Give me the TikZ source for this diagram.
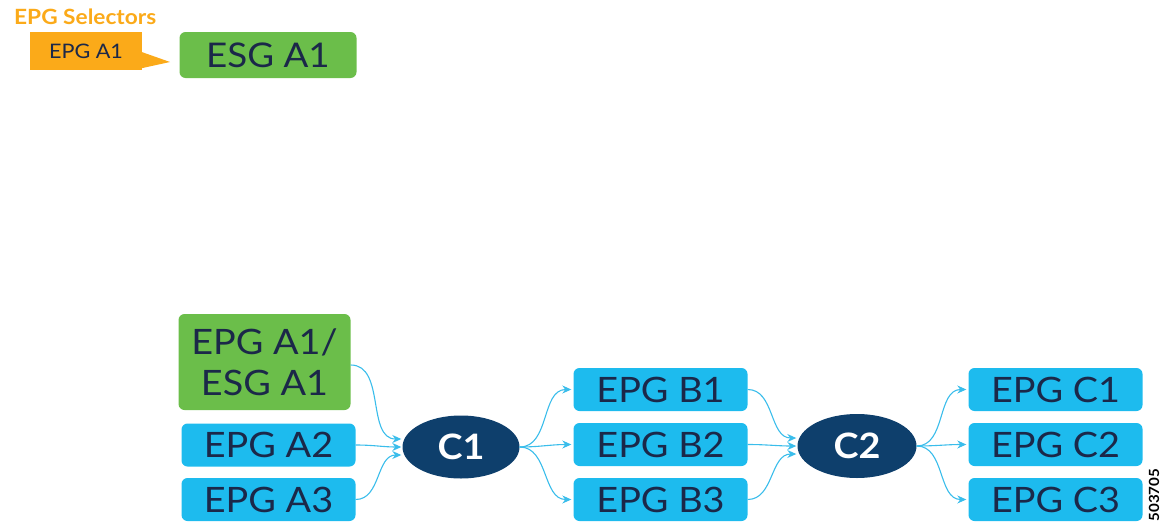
\documentclass[tikz,border=0pt]{standalone}
\usepackage{fontspec}
\setmainfont{Lato}[FakeStretch=1.08]
\usetikzlibrary{shapes.geometric,arrows.meta,calc}
\definecolor{cgreen}{HTML}{6BBE4A}
\definecolor{cblue}{HTML}{1DBBEE}
\definecolor{cnavy}{HTML}{0E3F6C}
\definecolor{corange}{HTML}{FBAA19}
\definecolor{ctext}{HTML}{1B2849}
\definecolor{carrow}{HTML}{3ABDEB}
\newcommand\epgfont{\fontsize{35}{41}\selectfont}
\begin{document}
\begin{tikzpicture}[x=1pt,y=-1pt,
  box/.style={rounded corners=6pt, inner sep=0pt, text=ctext, font=\epgfont,
    minimum width=174pt, minimum height=43pt, text height=25pt, text depth=0pt},
  bluebox/.style={box, fill=cblue},
  greenbox/.style={box, fill=cgreen},
  contract/.style={ellipse, fill=cnavy, text=white, inner sep=0pt,
    font=\fontsize{35}{35}\selectfont\bfseries, minimum width=117pt, minimum height=63pt,
    text height=25pt, text depth=0pt},
  conn/.style={draw=carrow, line width=1.1pt, -{Stealth[length=9pt,width=8pt]}}
]
\useasboundingbox (0,0) rectangle (1165,522);

% top part
\node[anchor=west, text=corange, font=\fontsize{21}{21}\selectfont\bfseries, inner sep=0pt] (title) at (14,17) {EPG Selectors};
\node[fill=corange, minimum width=112pt, minimum height=38pt, inner sep=0pt,
      text=ctext, font=\fontsize{20}{20}\selectfont, text height=15pt, text depth=0pt] (sel) at (86,51) {EPG A1};
\coordinate (tip) at (170,62);
\fill[corange] ($(sel.east)+(-0.5,1)$) -- (tip) -- ($(sel.south east)+(-0.5,-2)$) -- cycle;
\node[greenbox, minimum width=177pt, minimum height=46pt, font=\fontsize{34}{34}\selectfont, text height=24pt] (esg) at (268,55) {ESG A1};

% bottom part
\node[greenbox, minimum width=172pt, minimum height=96pt, align=center, text height=, text depth=] (a1) at (264.5,362) {EPG A1/\\ESG A1};
\node[bluebox] (a2) at (268.5,445) {EPG A2};
\node[bluebox] (a3) at (268.5,499.5) {EPG A3};

\node[contract] (c1) at (461,447) {C1};

\node[bluebox] (b1) at (660.5,389.5) {EPG B1};
\node[bluebox] (b2) at (660.5,444.5) {EPG B2};
\node[bluebox] (b3) at (660.5,499.5) {EPG B3};

\node[contract, minimum width=119pt, minimum height=64pt] (c2) at (857,446) {C2};

\node[bluebox] (d1) at (1055.5,389.5) {EPG C1};
\node[bluebox] (d2) at (1055.5,444.5) {EPG C2};
\node[bluebox] (d3) at (1055.5,499.5) {EPG C3};

\node[rotate=90, font=\fontsize{14}{14}\selectfont\bfseries, text=black, inner sep=0pt] (num) at (1154,495) {503705};

% connectors
\coordinate (c1i1) at ($(c1.west)+(-1,-8)$);
\coordinate (c1i2) at ($(c1.west)+(-1,0)$);
\coordinate (c1i3) at ($(c1.west)+(-1,8)$);
\coordinate (c2i1) at ($(c2.west)+(-1,-8)$);
\coordinate (c2i2) at ($(c2.west)+(-1,0)$);
\coordinate (c2i3) at ($(c2.west)+(-1,8)$);

\draw[conn] ($(a1.east)+(0,3)$) to[out=0,in=180] (c1i1);
\draw[conn] (a2.east) to[out=0,in=180] (c1i2);
\draw[conn] (a3.east) to[out=0,in=180] (c1i3);

\draw[conn] (c1.east) to[out=0,in=180] ($(b1.west)+(-2,0)$);
\draw[conn] (c1.east) to[out=0,in=180] ($(b2.west)+(-2,0)$);
\draw[conn] (c1.east) to[out=0,in=180] ($(b3.west)+(-2,0)$);

\draw[conn] (b1.east) to[out=0,in=180] (c2i1);
\draw[conn] (b2.east) to[out=0,in=180] (c2i2);
\draw[conn] (b3.east) to[out=0,in=180] (c2i3);

\draw[conn] (c2.east) to[out=0,in=180] ($(d1.west)+(-2,0)$);
\draw[conn] (c2.east) to[out=0,in=180] ($(d2.west)+(-2,0)$);
\draw[conn] (c2.east) to[out=0,in=180] ($(d3.west)+(-2,0)$);
\end{tikzpicture}
\end{document}
